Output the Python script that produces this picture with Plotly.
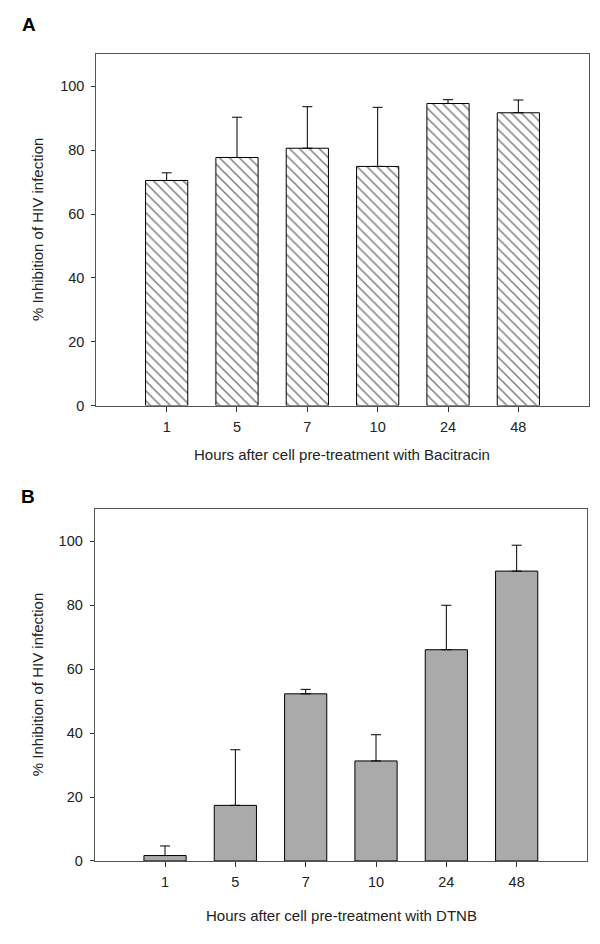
import plotly.graph_objects as go

hours = ["1", "5", "7", "10", "24", "48"]
bacitracin_mean = [70.5, 77.7, 80.6, 74.9, 94.6, 91.7]
bacitracin_err = [2.4, 12.6, 13.0, 18.5, 1.2, 4.0]
dtnb_mean = [1.7, 17.4, 52.3, 31.3, 66.1, 90.7]
dtnb_err = [3.0, 17.4, 1.4, 8.2, 13.9, 8.1]
y_ticks = [0, 20, 40, 60, 80, 100]

FONT = "Liberation Sans, Arial, sans-serif"

fig = go.Figure()

fig.add_trace(go.Bar(
    x=hours, y=bacitracin_mean, width=0.6,
    marker=dict(color="white", line=dict(color="black", width=1),
                pattern=dict(shape="\\", fgcolor="black", bgcolor="white", size=7, solidity=0.22)),
    error_y=dict(type="data", symmetric=False, array=bacitracin_err,
                 arrayminus=[0] * len(hours), color="black", thickness=1, width=5),
    xaxis="x", yaxis="y", showlegend=False,
))

fig.add_trace(go.Bar(
    x=hours, y=dtnb_mean, width=0.6,
    marker=dict(color="#aaaaaa", line=dict(color="black", width=1)),
    error_y=dict(type="data", symmetric=False, array=dtnb_err,
                 arrayminus=[0] * len(hours), color="black", thickness=1, width=5),
    xaxis="x2", yaxis="y2", showlegend=False,
))

axis_common = dict(showline=True, mirror=True, linecolor="#555555", linewidth=1,
                   showgrid=False, zeroline=False, ticks="outside",
                   tickcolor="#333333", tickfont=dict(family=FONT, size=14.5, color="#222"))

fig.update_layout(
    width=600, height=944,
    margin=dict(l=0, r=0, t=0, b=0),
    paper_bgcolor="white", plot_bgcolor="white",
    xaxis=dict(domain=[0.1472, 0.9678], anchor="y", type="category",
               range=[-1, 6], ticklen=5, ticklabelstandoff=3, **axis_common),
    yaxis=dict(domain=[0.5752, 0.9505], anchor="x", range=[0, 110],
               tickvals=y_ticks, ticklen=4, ticklabelstandoff=4, **axis_common),
    xaxis2=dict(domain=[0.1445, 0.965], anchor="y2", type="category",
                range=[-1, 6], ticklen=5, ticklabelstandoff=3, **axis_common),
    yaxis2=dict(domain=[0.0887, 0.4643], anchor="x2", range=[0, 110],
                tickvals=y_ticks, ticklen=4, ticklabelstandoff=4, **axis_common),
    font=dict(family=FONT, size=15, color="#222"),
)

annotations = [
    dict(text="<b>A</b>", x=21, y=17, font=dict(size=19, color="black")),
    dict(text="<b>B</b>", x=20, y=493, font=dict(size=19, color="black")),
    dict(text="% Inhibition of HIV infection", x=29, y=224, textangle=-90),
    dict(text="% Inhibition of HIV infection", x=29, y=683, textangle=-90),
    dict(text="Hours after cell pre-treatment with Bacitracin", x=334, y=450),
    dict(text="Hours after cell pre-treatment with DTNB", x=333, y=915),
]
for a in annotations:
    fig.add_annotation(
        text=a["text"], x=a["x"] / 600, y=1 - a["y"] / 944, xref="paper", yref="paper",
        showarrow=False, xanchor="center", yanchor="middle",
        textangle=a.get("textangle", 0),
        font=a.get("font", dict(size=15, color="#222")) | {"family": FONT},
    )

fig.write_html("out.html")
